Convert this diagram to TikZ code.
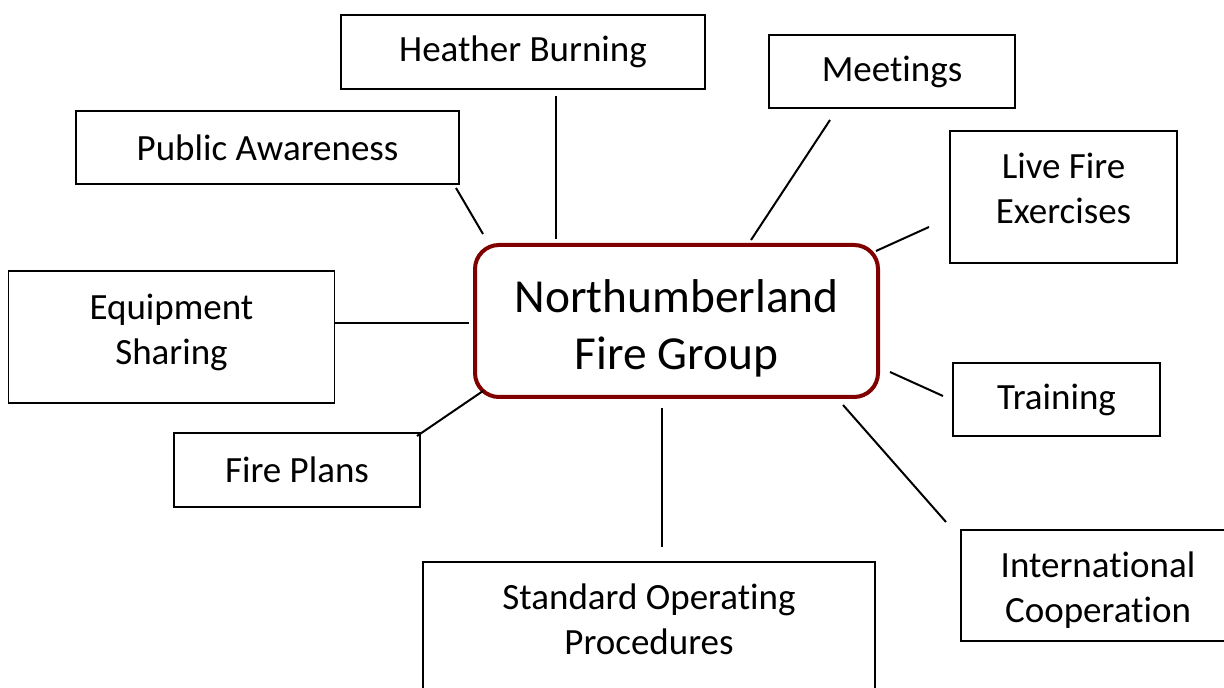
\documentclass[tikz,border=0pt]{standalone}
\usepackage{fontspec}
\setmainfont{Carlito}[Ligatures=NoCommon]
\usepackage{tikz}
\definecolor{firered}{RGB}{128,0,0}
\newcommand{\lift}[2]{\raisebox{#1}[\height][\depth]{#2}}

\begin{document}
\begin{tikzpicture}[x=0.5pt, y=-0.5pt,
  topic/.style={draw, line width=0.75pt, align=center, inner sep=0pt,
    font=\fontsize{18.5pt}{22.5pt}\selectfont},
  hub/.style={draw=firered, line width=2pt, rounded corners=12pt, align=center,
    inner sep=0pt, font=\fontsize{23.7pt}{28.5pt}\selectfont},
  link/.style={line width=1pt}]

\useasboundingbox (0,0) rectangle (1224,688);

\node[hub, minimum width=201.5pt, minimum height=76pt] (nfg) at (676.5,321)
  {\lift{-3.5pt}{Northumberland}\\\lift{-3.5pt}{Fire Group}};

\node[topic, minimum width=182pt, minimum height=37pt] (heather) at (523,52) {Heather Burning};
\node[topic, minimum width=123pt, minimum height=36.5pt] (meetings) at (892,71.5) {Meetings};
\node[topic, minimum width=191.5pt, minimum height=36.5pt] (public) at (267.5,147.5) {Public Awareness};
\node[topic, minimum width=113.5pt, minimum height=66pt] (livefire) at (1063.5,197)
  {\lift{4.5pt}{Live Fire}\\\lift{4.5pt}{Exercises}};
\node[topic, minimum width=163pt, minimum height=66pt] (equip) at (171.5,337)
  {\lift{2.5pt}{Equipment}\\\lift{2.5pt}{Sharing}};
\node[topic, minimum width=103.5pt, minimum height=36.5pt] (training) at (1056.5,399.5) {Training};
\node[topic, minimum width=123pt, minimum height=37pt] (fireplans) at (297,470) {Fire Plans};
\node[topic, minimum width=137pt, minimum height=55.5pt] (intl) at (1098,585.5)
  {\lift{-2.5pt}{International}\\\lift{-2.5pt}{Cooperation}};
\node[topic, minimum width=226pt, minimum height=69pt] (sop) at (649,631)
  {\lift{5.75pt}{Standard Operating}\\\lift{5.75pt}{Procedures}};

\coordinate (public-a) at (456,188);   \coordinate (public-b) at (483,234);
\coordinate (heather-a) at (556,96);   \coordinate (heather-b) at (556,239);
\coordinate (meetings-a) at (830,120); \coordinate (meetings-b) at (751,240);
\coordinate (livefire-a) at (929,227); \coordinate (livefire-b) at (876,251);
\coordinate (equip-a) at (335,323);    \coordinate (equip-b) at (469,323);
\coordinate (fireplans-a) at (417,436); \coordinate (fireplans-b) at (483,391);
\coordinate (training-a) at (943,396); \coordinate (training-b) at (890,372);
\coordinate (intl-a) at (946,522);     \coordinate (intl-b) at (843,405);
\coordinate (sop-a) at (662,547);      \coordinate (sop-b) at (662,408);

\foreach \t in {public,heather,meetings,livefire,equip,fireplans,training,intl,sop}
  \draw[link] (\t-a) -- (\t-b);

\end{tikzpicture}
\end{document}
